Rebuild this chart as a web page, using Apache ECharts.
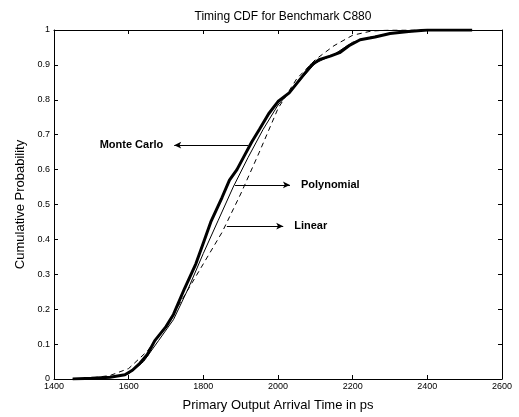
<!DOCTYPE html>
<html>
<head>
<meta charset="utf-8">
<script src="https://cdn.jsdelivr.net/npm/echarts@6/dist/echarts.min.js"></script>
<style>
  html, body { margin: 0; padding: 0; background: #fff; }
  #chart { width: 519px; height: 417px; }
</style>
</head>
<body>
<div id="chart"></div>
<script>
  // arrival time (ps) vs cumulative probability
  const monteCarlo = [
    [1450, 0], [1500, 0.002], [1550, 0.005], [1590, 0.012], [1610, 0.025],
    [1630, 0.045], [1650, 0.07], [1670, 0.11], [1700, 0.15], [1720, 0.185],
    [1750, 0.26], [1780, 0.33], [1800, 0.39], [1820, 0.45], [1850, 0.52],
    [1870, 0.57], [1890, 0.6], [1910, 0.64], [1930, 0.68], [1950, 0.715],
    [1975, 0.76], [2000, 0.795], [2030, 0.82], [2060, 0.86], [2090, 0.9],
    [2110, 0.915], [2140, 0.925], [2165, 0.935], [2190, 0.955], [2220, 0.972],
    [2260, 0.98], [2300, 0.99], [2350, 0.996], [2400, 1], [2520, 1]
  ]
  const polynomial = [
    [1450, 0], [1550, 0.004], [1600, 0.015], [1640, 0.05], [1680, 0.11],
    [1720, 0.17], [1760, 0.26], [1800, 0.36], [1840, 0.455], [1880, 0.55],
    [1920, 0.635], [1960, 0.715], [2000, 0.785], [2050, 0.845], [2100, 0.905],
    [2150, 0.93], [2200, 0.965], [2250, 0.98], [2300, 0.99], [2400, 1], [2520, 1]
  ]
  const linear = [
    [1480, 0], [1550, 0.01], [1600, 0.03], [1650, 0.08], [1700, 0.15],
    [1750, 0.24], [1800, 0.33], [1850, 0.42], [1900, 0.53], [1950, 0.65],
    [2000, 0.775], [2050, 0.86], [2100, 0.915], [2150, 0.955], [2200, 0.985],
    [2250, 0.997], [2300, 1], [2520, 1]
  ]
  const xTicks = { min: 1400, max: 2600, interval: 200 }
  const yTicks = { min: 0, max: 1, interval: 0.1 }

  const font = 'Liberation Sans, Arial, sans-serif'
  const chart = echarts.init(document.getElementById('chart'))

  const axisBase = {
    axisLine: { show: true, onZero: false, lineStyle: { color: '#000', width: 1 } },
    axisTick: { show: true, inside: true, length: 4, lineStyle: { color: '#000' } },
    splitLine: { show: false }
  }

  function arrow(from, to, text) {
    return [
      { coord: from, symbol: 'none' },
      {
        coord: to,
        symbol: 'arrow',
        symbolSize: [5, 7],
        label: {
          show: true,
          formatter: text,
          position: 'end',
          distance: 11,
          color: '#000',
          fontSize: 11,
          fontWeight: 'bold',
          fontFamily: font
        }
      }
    ]
  }

  chart.setOption({
    animation: false,
    title: {
      text: 'Timing CDF for Benchmark C880',
      left: 278,
      textAlign: 'center',
      top: 6,
      textStyle: { fontSize: 12, fontWeight: 'normal', color: '#000', fontFamily: font }
    },
    grid: { left: 54, right: 17, top: 30, bottom: 33 },
    xAxis: [
      Object.assign({}, axisBase, {
        type: 'value',
        min: xTicks.min, max: xTicks.max, interval: xTicks.interval,
        name: 'Primary Output Arrival Time in ps',
        nameLocation: 'middle',
        nameGap: 20,
        nameTextStyle: { fontSize: 13, color: '#000', fontFamily: font },
        axisLabel: { fontSize: 9, color: '#000', margin: 3, fontFamily: font, formatter: v => String(v) }
      }),
      Object.assign({}, axisBase, {
        type: 'value', position: 'top',
        min: xTicks.min, max: xTicks.max, interval: xTicks.interval,
        axisLabel: { show: false }
      })
    ],
    yAxis: [
      Object.assign({}, axisBase, {
        type: 'value',
        min: yTicks.min, max: yTicks.max, interval: yTicks.interval,
        name: 'Cumulative Probability',
        nameLocation: 'middle',
        nameGap: 26,
        nameTextStyle: { fontSize: 13, color: '#000', fontFamily: font },
        axisLabel: { fontSize: 9, color: '#000', margin: 4, fontFamily: font }
      }),
      Object.assign({}, axisBase, {
        type: 'value', position: 'right',
        min: yTicks.min, max: yTicks.max, interval: yTicks.interval,
        axisLabel: { show: false }
      })
    ],
    series: [
      {
        name: 'Linear',
        type: 'line',
        data: linear,
        showSymbol: false,
        lineStyle: { color: '#000', width: 1, type: [5, 4] },
        markLine: {
          silent: true,
          lineStyle: { color: '#000', width: 1, type: 'solid' },
          data: [arrow([1863, 0.438], [2014, 0.438], 'Linear')]
        }
      },
      {
        name: 'Polynomial',
        type: 'line',
        data: polynomial,
        showSymbol: false,
        lineStyle: { color: '#000', width: 1 },
        markLine: {
          silent: true,
          lineStyle: { color: '#000', width: 1, type: 'solid' },
          data: [arrow([1885, 0.556], [2032, 0.556], 'Polynomial')]
        }
      },
      {
        name: 'Monte Carlo',
        type: 'line',
        data: monteCarlo,
        showSymbol: false,
        lineStyle: { color: '#000', width: 3 },
        markLine: {
          silent: true,
          lineStyle: { color: '#000', width: 1, type: 'solid' },
          data: [arrow([1920, 0.67], [1722, 0.67], 'Monte Carlo')]
        }
      }
    ]
  })
</script>
</body>
</html>
